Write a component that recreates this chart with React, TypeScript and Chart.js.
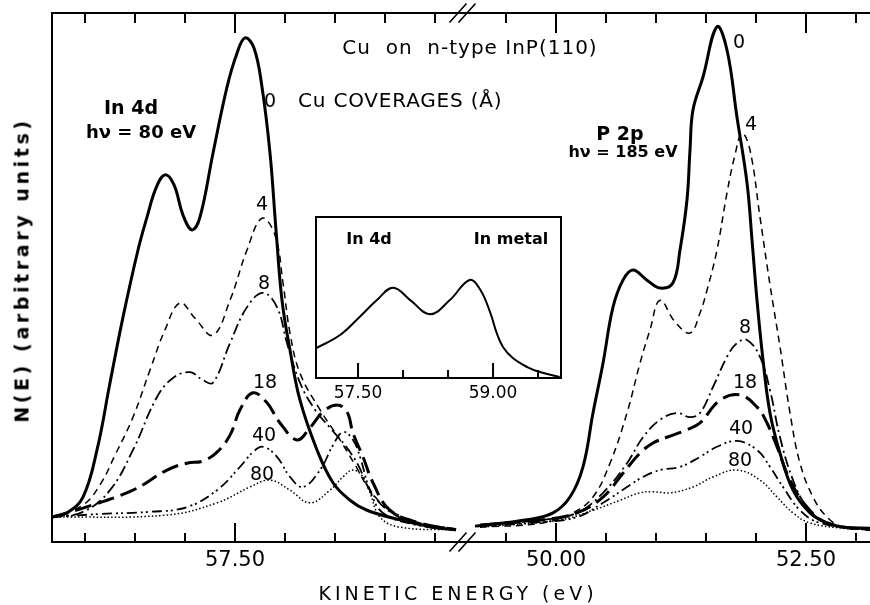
import React, { useEffect, useRef } from "react";
import { Chart, registerables } from "chart.js";

Chart.register(...registerables);

// ---------------- data ----------------
const COVERAGES = ["0", "4", "8", "18", "40", "80"]; // Cu coverage (Å)

// In 4d panel (hν = 80 eV): kinetic energy (eV) / N(E) (arb. units)
const IN4D_E_0 = [55.67, 55.82, 55.98, 56.12, 56.25, 56.38, 56.53, 56.62, 56.71, 56.8, 56.89, 56.98, 57.07, 57.15, 57.28, 57.42, 57.52, 57.6, 57.69, 57.77, 57.85, 57.91, 57.97, 58.05, 58.15, 58.32, 58.48, 58.65, 58.82, 59.15, 59.48, 59.71];
const IN4D_N_0 = [4.7, 5.5, 8.5, 17.4, 30.1, 42.5, 55.2, 61.4, 66.9, 69.4, 67.5, 61.8, 59.0, 61.4, 73.5, 86.0, 92.4, 95.3, 93.4, 86.0, 73.5, 59.0, 45.7, 36.3, 26.8, 17.4, 11.2, 7.9, 6.0, 4.2, 2.8, 2.3];
const IN4D_E_4 = [55.67, 55.98, 56.15, 56.3, 56.48, 56.65, 56.8, 56.95, 57.1, 57.28, 57.45, 57.62, 57.77, 57.9, 57.98, 58.05, 58.15, 58.35, 58.55, 58.7, 58.85, 59.05, 59.35, 59.71];
const IN4D_N_4 = [4.7, 7.0, 10.8, 16.4, 23.6, 32.5, 40.1, 45.2, 42.3, 39.1, 45.7, 55.2, 61.2, 58.0, 49.0, 39.5, 31.9, 25.0, 19.3, 14.6, 9.8, 6.0, 3.6, 2.5];
const IN4D_E_8 = [55.67, 55.98, 56.25, 56.48, 56.72, 56.88, 57.05, 57.18, 57.28, 57.45, 57.62, 57.78, 57.92, 58.02, 58.15, 58.3, 58.45, 58.6, 58.73, 58.85, 59.05, 59.35, 59.71];
const IN4D_N_8 = [4.7, 5.7, 9.8, 17.4, 27.4, 31.0, 32.1, 30.6, 30.1, 37.6, 44.4, 47.1, 44.4, 37.6, 30.1, 25.0, 21.6, 18.3, 14.6, 9.8, 5.7, 3.4, 2.3];
const IN4D_E_18 = [55.67, 55.98, 56.48, 56.82, 57.02, 57.18, 57.32, 57.45, 57.55, 57.68, 57.82, 57.95, 58.12, 58.25, 58.38, 58.52, 58.62, 58.68, 58.78, 58.88, 59.05, 59.35, 59.71];
const IN4D_N_18 = [4.7, 6.4, 9.8, 13.6, 14.9, 15.3, 17.0, 20.2, 25.0, 28.2, 26.3, 22.5, 19.3, 21.6, 24.6, 25.9, 24.6, 20.6, 16.1, 11.2, 6.0, 3.6, 2.3];
const IN4D_E_40 = [55.67, 56.15, 56.65, 57.02, 57.32, 57.55, 57.68, 57.78, 57.92, 58.05, 58.18, 58.35, 58.48, 58.58, 58.68, 58.75, 58.85, 58.98, 59.32, 59.71];
const IN4D_N_40 = [4.7, 5.3, 5.7, 6.6, 9.8, 14.2, 17.0, 18.0, 16.1, 12.3, 10.4, 13.6, 18.3, 20.8, 19.3, 16.1, 9.8, 5.5, 3.2, 2.3];
const IN4D_E_80 = [55.67, 56.82, 57.32, 57.65, 57.85, 58.05, 58.25, 58.45, 58.58, 58.68, 58.78, 58.85, 58.95, 59.15, 59.71];
const IN4D_N_80 = [4.7, 5.1, 7.4, 10.4, 11.7, 9.8, 7.4, 9.8, 12.3, 13.6, 12.3, 9.3, 4.7, 2.8, 2.3];

// P 2p panel (hν = 185 eV)
const P2P_E_0 = [49.19, 49.71, 49.97, 50.14, 50.27, 50.37, 50.47, 50.57, 50.67, 50.77, 50.91, 51.04, 51.17, 51.24, 51.31, 51.34, 51.37, 51.47, 51.61, 51.71, 51.81, 51.91, 51.96, 52.01, 52.07, 52.14, 52.24, 52.37, 52.54, 52.71, 52.87, 53.14];
const P2P_N_0 = [3.0, 4.2, 5.5, 8.5, 14.2, 24.4, 33.8, 44.4, 49.5, 51.4, 49.5, 48.0, 49.0, 55.2, 64.7, 74.1, 81.7, 87.9, 97.4, 93.0, 80.3, 67.9, 57.1, 45.7, 34.4, 24.4, 16.8, 9.8, 5.5, 3.6, 2.8, 2.6];
const P2P_E_4 = [49.24, 49.87, 50.17, 50.37, 50.54, 50.71, 50.84, 50.94, 51.04, 51.19, 51.34, 51.44, 51.51, 51.61, 51.71, 51.79, 51.86, 51.94, 52.04, 52.14, 52.24, 52.34, 52.44, 52.57, 52.71, 52.87, 53.14];
const P2P_N_4 = [2.8, 3.6, 5.5, 8.5, 14.9, 24.4, 33.8, 40.1, 45.7, 41.6, 39.5, 43.3, 47.6, 55.2, 66.0, 73.2, 77.3, 74.1, 61.4, 48.6, 36.9, 24.4, 14.9, 8.5, 4.7, 2.8, 2.3];
const P2P_E_8 = [49.24, 49.87, 50.21, 50.47, 50.71, 50.87, 51.04, 51.21, 51.34, 51.44, 51.57, 51.71, 51.81, 51.91, 52.04, 52.14, 52.24, 52.37, 52.51, 52.71, 53.14];
const P2P_N_8 = [3.2, 4.2, 5.5, 9.3, 14.9, 19.8, 23.1, 24.4, 23.6, 24.4, 29.3, 35.0, 37.6, 38.2, 35.0, 28.7, 19.8, 11.7, 6.6, 3.6, 2.3];
const P2P_E_18 = [49.24, 49.87, 50.21, 50.47, 50.67, 50.84, 50.97, 51.11, 51.31, 51.44, 51.64, 51.84, 52.01, 52.11, 52.21, 52.34, 52.51, 52.71, 53.14];
const P2P_N_18 = [3.2, 4.2, 5.5, 8.5, 13.0, 16.8, 18.7, 19.8, 21.2, 22.5, 26.8, 27.8, 25.5, 22.5, 18.0, 11.7, 6.6, 3.6, 2.3];
const P2P_E_40 = [49.24, 49.87, 50.21, 50.47, 50.71, 50.87, 51.04, 51.24, 51.44, 51.61, 51.81, 52.01, 52.14, 52.27, 52.44, 52.64, 53.14];
const P2P_N_40 = [3.0, 3.8, 4.7, 7.4, 10.4, 12.3, 13.6, 14.2, 16.1, 18.0, 19.1, 17.4, 14.2, 10.4, 6.0, 3.6, 2.3];
const P2P_E_80 = [49.24, 50.04, 50.37, 50.64, 50.84, 50.97, 51.14, 51.37, 51.57, 51.81, 52.04, 52.21, 52.37, 52.54, 52.87, 53.14];
const P2P_N_80 = [2.8, 4.2, 6.0, 7.9, 9.3, 9.5, 9.3, 10.4, 12.3, 13.6, 11.7, 8.5, 5.5, 3.6, 2.6, 2.3];

// Inset: In 4d of In metal
const INSET_E = [57.03, 57.3, 57.52, 57.71, 57.89, 58.08, 58.3, 58.52, 58.74, 58.86, 58.97, 59.04, 59.11, 59.22, 59.38, 59.52, 59.74];
const INSET_N = [18.4, 26.7, 38.1, 48.4, 56.1, 48.4, 39.6, 48.4, 60.9, 54.7, 40.4, 28.0, 19.3, 12.4, 6.8, 3.7, 0.6];

// axis ranges
const IN4D_X_RANGE = [55.67, 59.76];
const P2P_X_RANGE = [49.05, 53.14];
const INSET_X_RANGE = [57.033, 59.755];
const Y_RANGE = [0, 100];

// ---------------- styles ----------------
const W = 870;
const H = 605;
const FONT = "DejaVu Sans";

const LINE_STYLE: Record<string, { width: number; dash: number[] }> = {
  "0": { width: 3, dash: [] },
  "4": { width: 1.5, dash: [7, 5] },
  "8": { width: 1.8, dash: [11, 4, 2, 4] },
  "18": { width: 3, dash: [17, 7] },
  "40": { width: 1.8, dash: [10, 4, 2, 3, 2, 4] },
  "80": { width: 1.5, dash: [1.5, 2.2] },
};

const IN4D_SERIES = [
  { e: IN4D_E_0, n: IN4D_N_0 },
  { e: IN4D_E_4, n: IN4D_N_4 },
  { e: IN4D_E_8, n: IN4D_N_8 },
  { e: IN4D_E_18, n: IN4D_N_18 },
  { e: IN4D_E_40, n: IN4D_N_40 },
  { e: IN4D_E_80, n: IN4D_N_80 },
];
const P2P_SERIES = [
  { e: P2P_E_0, n: P2P_N_0 },
  { e: P2P_E_4, n: P2P_N_4 },
  { e: P2P_E_8, n: P2P_N_8 },
  { e: P2P_E_18, n: P2P_N_18 },
  { e: P2P_E_40, n: P2P_N_40 },
  { e: P2P_E_80, n: P2P_N_80 },
];

const near = (a: number, b: number) => Math.abs(a - b) < 1e-6;
const mainMajor = (v: number) => near(v / 2.5, Math.round(v / 2.5));
const insetMajor = (v: number) => near((v - 57.5) / 1.5, Math.round((v - 57.5) / 1.5));

type FrameOpts = {
  leftEdge: boolean;
  rightEdge: boolean;
  topEdge: boolean;
  topTicks: boolean;
  breaks: boolean;
  fillWhite: boolean;
  isMajor: (v: number) => boolean;
  bottomMajor: number;
  bottomMinor: number;
  topMajor: number;
  topMinor: number;
  lineWidth: number;
};

function framePlugin(o: FrameOpts) {
  return {
    id: "frame",
    beforeDraw(chart: any) {
      if (!o.fillWhite) return;
      const { ctx, chartArea: a } = chart;
      ctx.save();
      ctx.fillStyle = "#fff";
      ctx.fillRect(a.left, a.top, a.right - a.left, a.bottom - a.top);
      ctx.restore();
    },
    afterDraw(chart: any) {
      const { ctx, chartArea: a } = chart;
      const xs = chart.scales.x;
      ctx.save();
      ctx.strokeStyle = "#000";
      ctx.lineWidth = o.lineWidth;
      ctx.lineCap = "butt";
      ctx.setLineDash([]);
      ctx.beginPath();
      const hw = o.lineWidth / 2;
      ctx.moveTo(a.left - (o.leftEdge ? hw : 0), a.bottom);
      ctx.lineTo(a.right + (o.rightEdge ? hw : 0), a.bottom);
      if (o.topEdge) {
        ctx.moveTo(a.left - (o.leftEdge ? hw : 0), a.top);
        ctx.lineTo(a.right + (o.rightEdge ? hw : 0), a.top);
      }
      if (o.leftEdge) {
        ctx.moveTo(a.left, a.top);
        ctx.lineTo(a.left, a.bottom);
      }
      if (o.rightEdge) {
        ctx.moveTo(a.right, a.top);
        ctx.lineTo(a.right, a.bottom);
      }
      ctx.stroke();
      ctx.beginPath();
      for (const t of xs.ticks) {
        const px = xs.getPixelForValue(t.value);
        if (px < a.left + 2 || px > a.right - 2) continue;
        const major = o.isMajor(t.value);
        const bl = major ? o.bottomMajor : o.bottomMinor;
        ctx.moveTo(px, a.bottom);
        ctx.lineTo(px, a.bottom - bl);
        if (o.topTicks) {
          const tl = major ? o.topMajor : o.topMinor;
          ctx.moveTo(px, a.top);
          ctx.lineTo(px, a.top + tl);
        }
      }
      ctx.stroke();
      if (o.breaks) {
        ctx.lineWidth = 1.6;
        ctx.beginPath();
        const x0 = a.left;
        for (const cy of [a.top, a.bottom]) {
          for (const cx of [x0 - 3, x0 + 6]) {
            ctx.moveTo(cx - 8.5, cy + 9.5);
            ctx.lineTo(cx + 8.5, cy - 9.5);
          }
        }
        ctx.stroke();
      }
      ctx.restore();
    },
  };
}

function panelConfig(
  series: { e: number[]; n: number[] }[],
  xRange: number[],
  padLeft: number,
  padRight: number,
  frame: FrameOpts
): any {
  return {
    type: "line",
    data: {
      datasets: series.map((s, i) => ({
        label: COVERAGES[i] + " Å",
        data: s.e.map((x, j) => ({ x, y: s.n[j] })),
        borderColor: "#000",
        borderWidth: LINE_STYLE[COVERAGES[i]].width,
        borderDash: LINE_STYLE[COVERAGES[i]].dash,
        borderCapStyle: "butt",
        borderJoinStyle: "round",
        pointRadius: 0,
        fill: false,
        tension: 0.4,
      })),
    },
    options: {
      responsive: false,
      animation: false,
      devicePixelRatio: 1,
      events: [],
      layout: { padding: { left: padLeft, right: padRight, top: 13, bottom: 0 } },
      plugins: { legend: { display: false }, tooltip: { enabled: false }, title: { display: false } },
      scales: {
        x: {
          type: "linear",
          min: xRange[0],
          max: xRange[1],
          position: "bottom",
          grid: { display: false, drawTicks: false },
          border: { display: false },
          ticks: {
            stepSize: 0.5,
            includeBounds: false,
            autoSkip: false,
            maxRotation: 0,
            minRotation: 0,
            padding: 6,
            color: "#000",
            font: { family: FONT, size: 21 },
            callback: (v: number) => (mainMajor(v) ? Number(v).toFixed(2) : ""),
          },
          afterFit: (s: any) => {
            s.height = 63;
          },
        },
        y: { type: "linear", min: Y_RANGE[0], max: Y_RANGE[1], display: false },
      },
    },
    plugins: [framePlugin(frame)],
  };
}

function insetConfig(): any {
  return {
    type: "line",
    data: {
      datasets: [
        {
          label: "In metal",
          data: INSET_E.map((x, j) => ({ x, y: INSET_N[j] })),
          borderColor: "#000",
          borderWidth: 2,
          pointRadius: 0,
          fill: false,
          tension: 0.4,
        },
      ],
    },
    options: {
      responsive: false,
      animation: false,
      devicePixelRatio: 1,
      events: [],
      layout: { padding: { left: 16, right: 19, top: 12, bottom: 0 } },
      plugins: { legend: { display: false }, tooltip: { enabled: false } },
      scales: {
        x: {
          type: "linear",
          min: INSET_X_RANGE[0],
          max: INSET_X_RANGE[1],
          grid: { display: false, drawTicks: false },
          border: { display: false },
          ticks: {
            stepSize: 0.5,
            includeBounds: false,
            autoSkip: false,
            maxRotation: 0,
            minRotation: 0,
            padding: 5,
            color: "#000",
            font: { family: FONT, size: 17 },
            callback: (v: number) => (insetMajor(v) ? Number(v).toFixed(2) : ""),
          },
          afterFit: (s: any) => {
            s.height = 32;
          },
        },
        y: { type: "linear", min: 0, max: 100, display: false },
      },
    },
    plugins: [
      framePlugin({
        leftEdge: true,
        rightEdge: true,
        topEdge: true,
        topTicks: false,
        breaks: false,
        fillWhite: true,
        isMajor: insetMajor,
        bottomMajor: 15,
        bottomMinor: 8,
        topMajor: 0,
        topMinor: 0,
        lineWidth: 2,
      }),
    ],
  };
}

type LabelProps = {
  x: number;
  y: number;
  text: string;
  size: number;
  bold?: boolean;
  ls?: number;
  anchor?: "center" | "left";
  rotate?: number;
};

function Label({ x, y, text, size, bold, ls, anchor = "center", rotate }: LabelProps) {
  const tx = anchor === "center" ? "-50%" : "0";
  return (
    <div
      style={{
        position: "absolute",
        left: x,
        top: y,
        transform: `translate(${tx}, -50%)` + (rotate ? ` rotate(${rotate}deg)` : ""),
        fontFamily: FONT,
        fontSize: size,
        fontWeight: bold ? 700 : 400,
        letterSpacing: ls ? `${ls}px` : undefined,
        lineHeight: 1,
        whiteSpace: "pre",
        color: "#000",
      }}
    >
      {text}
    </div>
  );
}

export default function App() {
  const leftRef = useRef<HTMLCanvasElement>(null);
  const rightRef = useRef<HTMLCanvasElement>(null);
  const insetRef = useRef<HTMLCanvasElement>(null);

  useEffect(() => {
    const mainFrame = {
      rightEdge: false,
      topEdge: true,
      topTicks: true,
      fillWhite: false,
      isMajor: mainMajor,
      bottomMajor: 19,
      bottomMinor: 9,
      topMajor: 20,
      topMinor: 10,
      lineWidth: 2,
    };
    const left = new Chart(
      leftRef.current as HTMLCanvasElement,
      panelConfig(IN4D_SERIES, IN4D_X_RANGE, 52, W - 461, { ...mainFrame, leftEdge: true, breaks: false })
    );
    const right = new Chart(
      rightRef.current as HTMLCanvasElement,
      panelConfig(P2P_SERIES, P2P_X_RANGE, 461, 0, { ...mainFrame, leftEdge: false, breaks: true })
    );
    const inset = new Chart(insetRef.current as HTMLCanvasElement, insetConfig());
    return () => {
      left.destroy();
      right.destroy();
      inset.destroy();
    };
  }, []);

  const abs: React.CSSProperties = { position: "absolute", left: 0, top: 0 };

  return (
    <div style={{ position: "absolute", left: 0, top: 0, width: W, height: H, background: "#fff", overflow: "hidden" }}>
      <canvas ref={leftRef} width={W} height={H} style={abs} />
      <canvas ref={rightRef} width={W} height={H} style={abs} />
      <canvas ref={insetRef} width={280} height={205} style={{ position: "absolute", left: 300, top: 205 }} />

      {/* axis titles */}
      <Label x={458} y={593} text="KINETIC ENERGY (eV)" size={19} ls={4} />
      <Label x={22} y={270} text="N(E) (arbitrary units)" size={19} bold ls={3.6} rotate={-90} />

      {/* annotations */}
      <Label x={470} y={47} text="Cu  on  n-type InP(110)" size={20} ls={1} />
      <Label x={270} y={100} text="0" size={19} />
      <Label x={298} y={100} text="Cu COVERAGES (Å)" size={20} ls={0.8} anchor="left" />
      <Label x={131} y={107} text="In 4d" size={19} bold />
      <Label x={141} y={132} text="hν = 80 eV" size={18} bold />
      <Label x={620} y={133} text="P 2p" size={19} bold />
      <Label x={623} y={152} text="hν = 185 eV" size={16} bold />

      {/* curve labels, In 4d */}
      <Label x={262} y={203} text="4" size={19} />
      <Label x={264} y={282} text="8" size={19} />
      <Label x={265} y={381} text="18" size={19} />
      <Label x={264} y={434} text="40" size={19} />
      <Label x={262} y={473} text="80" size={19} />

      {/* curve labels, P 2p */}
      <Label x={739} y={41} text="0" size={19} />
      <Label x={751} y={123} text="4" size={19} />
      <Label x={745} y={326} text="8" size={19} />
      <Label x={745} y={381} text="18" size={19} />
      <Label x={741} y={427} text="40" size={19} />
      <Label x={740} y={459} text="80" size={19} />

      {/* inset labels */}
      <Label x={369} y={239} text="In 4d" size={16} bold />
      <Label x={511} y={239} text="In metal" size={16} bold />
    </div>
  );
}
